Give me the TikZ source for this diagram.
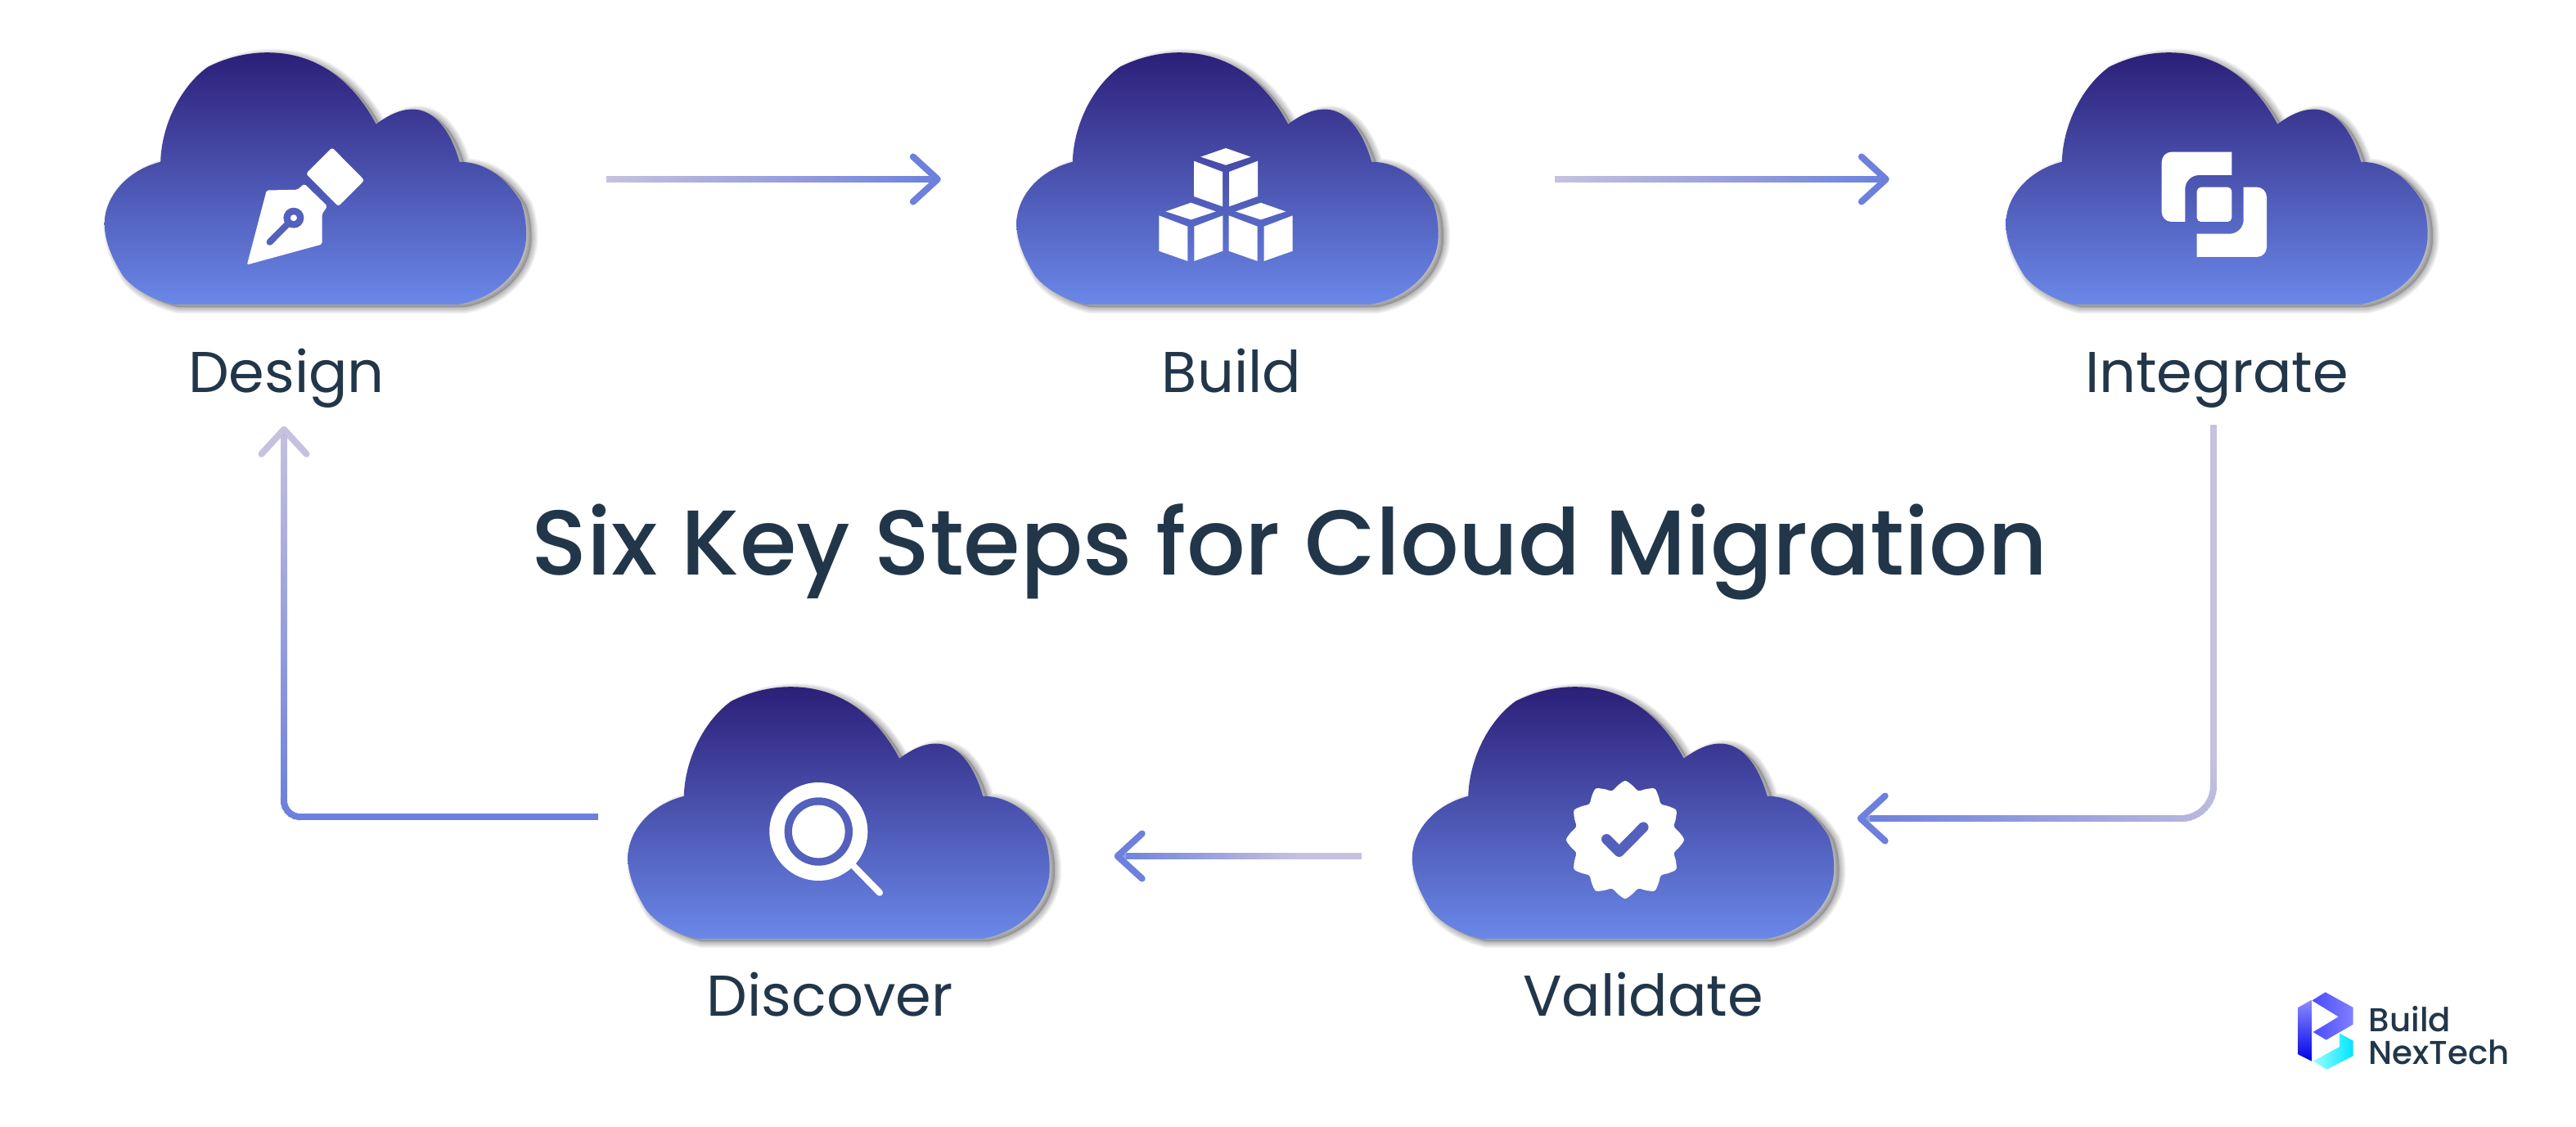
\documentclass[tikz,border=0pt]{standalone}
\usepackage{fontspec}
\setmainfont{Poppins}
\newfontfamily\titlefont{Poppins Medium}
\usetikzlibrary{calc,arrows.meta,decorations.markings}

\definecolor{cloudtop}{HTML}{2C1F78}
\definecolor{cloudbottom}{HTML}{6A88E8}
\definecolor{iconhole}{HTML}{5361BC}
\definecolor{flowlight}{HTML}{C5C1DF}
\definecolor{flowdeep}{HTML}{6C80DC}
\definecolor{labelink}{HTML}{22364A}

\newcommand{\cloudpath}{(-1.738,-1.538) -- (1.762,-1.538)
  .. controls (2.25,-1.45) and (2.577,-1.08) .. (2.577,-0.688)
  .. controls (2.577,-0.55) and (2.56,-0.42) .. (2.512,-0.288)
  .. controls (2.35,-0.02) and (2.1,0.202) .. (1.762,0.202)
  .. controls (1.65,0.59) and (1.45,0.845) .. (1.185,0.845)
  .. controls (1.03,0.845) and (0.87,0.76) .. (0.742,0.662)
  .. controls (0.45,1.21) and (0.0,1.538) .. (-0.585,1.538)
  .. controls (-0.85,1.538) and (-1.1,1.47) .. (-1.315,1.362)
  .. controls (-1.65,1.12) and (-1.88,0.65) .. (-1.892,0.202)
  .. controls (-2.3,0.1) and (-2.577,-0.22) .. (-2.577,-0.555)
  .. controls (-2.577,-0.78) and (-2.47,-1.0) .. (-2.354,-1.188)
  .. controls (-2.2,-1.38) and (-1.95,-1.49) .. (-1.738,-1.538) -- cycle}

\def\flowstart{0}

\tikzset{
   cloud box/.style={ rectangle, minimum width=5.15cm, minimum height=3.08cm, inner sep=0pt},
   step label/.style={ anchor=base, inner sep=0pt, text=labelink, font=\fontsize{20pt}{24pt}\selectfont},
   title label/.style={ anchor=base, inner sep=0pt, text=labelink, font=\titlefont\fontsize{32pt}{40pt}\selectfont},
   logo label/.style={ anchor=base west, inner sep=0pt, text=labelink, font=\titlefont\fontsize{11.5pt}{13pt}\selectfont},
   flow start/.store in=\flowstart,
   flow/.style 2 args={ draw=#2!50!#1, line width=0.07cm,
     -{Straight Barb[length=0.3cm,width=0.55cm,line width=0.08cm,round,color=#2]},
     postaction={decorate, decoration={markings,
       mark=between positions 0 and -4pt step 1.5pt with {
         \pgfmathsetmacro{\flowmix}{max(0,(\pgfkeysvalueof{/pgf/decoration/mark info/distance from start}/\pgfdecoratedpathlength-\flowstart)/(1-\flowstart))*100}
         \fill[#2!\flowmix!#1,sharp corners] (-1.2pt,-0.04cm) rectangle (1.2pt,0.04cm);
       }}}},
   cloud step/.pic={
     \fill[black,opacity=0.2,shift={(0.065,-0.035)}] \cloudpath;
     \foreach \shadowwidth in {0.02,0.04,...,0.16}
       \draw[black,opacity=0.04,line width=\shadowwidth cm,line join=round,shift={(0.065,-0.035)}] \cloudpath;
     \shade[top color=cloudtop,bottom color=cloudbottom] \cloudpath;
   },
   pen icon/.pic={
     \fill[white,rounded corners=0.03cm] (0.204,0.378) -- (0.6,-0.022) -- (0.281,-0.342) -- (-0.115,0.058) -- cycle;
     \fill[white,rounded corners=0.02cm] (-0.596,-0.145) -- (-0.219,-0.138) -- (-0.135,-0.065) -- (0.146,-0.338) -- (0.081,-0.438) -- (0.081,-0.805) -- (-0.835,-1.055) -- cycle;
     \draw[iconhole,line width=0.08cm,line cap=round] (-0.265,-0.482) -- (-0.558,-0.778);
     \fill[iconhole] (-0.265,-0.482) circle (0.125);
     \fill[white] (-0.265,-0.482) circle (0.04);
   },
   cube icon/.pic={
     \fill[white] (0,0.29) -- (0.305,0.183) -- (0,0.083) -- (-0.307,0.183) -- cycle;
     \fill[white] (-0.39,0.133) -- (-0.04,0) -- (-0.04,-0.423) -- (-0.39,-0.30) -- cycle;
     \fill[white] (0.04,0) -- (0.39,0.133) -- (0.39,-0.30) -- (0.04,-0.423) -- cycle;
   },
   overlap icon/.pic={
     \fill[white,rounded corners=0.12cm] (0.183,0.04) [sharp corners] -- (0.183,0.323) [rounded corners=0.12cm] -- (-0.673,0.323) -- (-0.673,-0.53) [sharp corners] -- (-0.387,-0.53) [rounded corners=0.17cm] -- (-0.387,0.04) [sharp corners] -- cycle;
     \fill[white,rounded corners=0.12cm] (-0.243,-0.677) [sharp corners] -- (-0.243,-0.96) [rounded corners=0.12cm] -- (0.61,-0.96) -- (0.61,-0.107) [sharp corners] -- (0.327,-0.107) [rounded corners=0.17cm] -- (0.327,-0.677) [sharp corners] -- cycle;
     \fill[white,rounded corners=0.05cm] (-0.243,-0.107) rectangle (0.183,-0.53);
   },
   badge icon/.pic={
     \fill[white] plot[smooth cycle,domain=0:352.5,samples=48] (\x:{0.67+0.05*cos(12*\x)});
     \draw[iconhole,line width=0.125cm,line cap=round,line join=round] (-0.227,0.007) -- (-0.073,-0.147) -- (0.223,0.153);
   },
   lens icon/.pic={
     \draw[white,line width=0.08cm,line cap=round] (0.43,-0.423) -- (0.747,-0.747);
     \fill[white] (0,0) circle (0.6);
     \fill[iconhole] (0,0) circle (0.417);
     \fill[white] (0,0) circle (0.323);
   },
   logo mark/.pic={
     \shade[bottom color=blue!90!black,top color=blue!45!white] (-0.333,0.283) -- (-0.167,0.377) -- (-0.167,-0.373) -- (-0.333,-0.29) -- cycle;
     \shade[left color=blue!70!white,right color=blue!50!white] (-0.15,0.377) -- (0,0.47) -- (0.34,0.283) -- (0.34,0.077) -- (0.01,-0.113) -- (-0.15,-0.017) -- (0.16,0.17) -- (-0.15,0.36) -- cycle;
     \shade[left color=cyan!40!white,right color=cyan!90!blue] (0.173,-0.033) -- (0.34,-0.123) -- (0.34,-0.307) -- (0.017,-0.473) -- (-0.15,-0.373) -- (0.173,-0.197) -- cycle;
   }
}

\begin{document}
\begin{tikzpicture}

  \useasboundingbox (0,0) rectangle (31.48,13.76);

  \node[cloud box] at (3.854,11.58)  (design)    {};
  \node[cloud box] at (15.00,11.58)  (build)     {};
  \node[cloud box] at (27.09,11.58)  (integrate) {};
  \node[cloud box] at (19.835,3.83)  (validate)  {};
  \node[cloud box] at (10.25,3.83)   (discover)  {};

  \pic at (design)    {cloud step};
  \pic at (build)     {cloud step};
  \pic at (integrate) {cloud step};
  \pic at (validate)  {cloud step};
  \pic at (discover)  {cloud step};

  \pic at (design) {pen icon};
  \pic at ($(build)+(-0.02,0.08)$)    {cube icon};
  \pic at ($(build)+(-0.447,-0.587)$) {cube icon};
  \pic at ($(build)+(0.407,-0.587)$)  {cube icon};
  \pic at (integrate) {overlap icon};
  \pic at ($(validate)+(0.025,-0.33)$) {badge icon};
  \pic at ($(discover)+(-0.247,-0.23)$) {lens icon};

  \node[step label] at (3.50,8.96)  (design label)    {Design};
  \node[step label] at (15.05,8.96) (build label)     {Build};
  \node[step label] at (27.09,8.96) (integrate label) {Integrate};
  \node[step label] at (20.08,1.35) (validate label)  {Validate};
  \node[step label] at (10.14,1.35) (discover label)  {Discover};

  \node[title label] at (15.76,6.73) (title) {Six Key Steps for Cloud Migration};

  %% Arrows
  \draw[flow={flowlight}{flowdeep}] ($(design.east)+(1.02,-0.01)$) -- ($(build.west)+(-0.92,-0.01)$);
  \draw[flow={flowlight}{flowdeep}] ($(build.east)+(1.46,-0.01)$) -- ($(integrate.west)+(-1.42,-0.01)$);
  \draw[flow={flowlight}{flowdeep},flow start=0.45,rounded corners=0.4cm] ($(integrate.south)+(-0.04,-1.51)$) |- ($(validate.east)+(0.28,-0.07)$);
  \draw[flow={flowlight}{flowdeep},flow start=0.25] ($(validate.west)+(-0.66,-0.53)$) -- ($(discover.east)+(0.785,-0.53)$);
  \draw[flow={flowdeep}{flowlight},flow start=0.45,rounded corners=0.2cm] ($(discover.west)+(-0.405,-0.05)$) -| ($(design.south)+(-0.384,-1.48)$);

  %% Logo
  \pic at (28.417,1.167) {logo mark};
  \node[logo label] at (28.94,1.16)  (logo build)    {Build};
  \node[logo label] at (28.94,0.76)  (logo nextech)  {NexTech};

\end{tikzpicture}
\end{document}
